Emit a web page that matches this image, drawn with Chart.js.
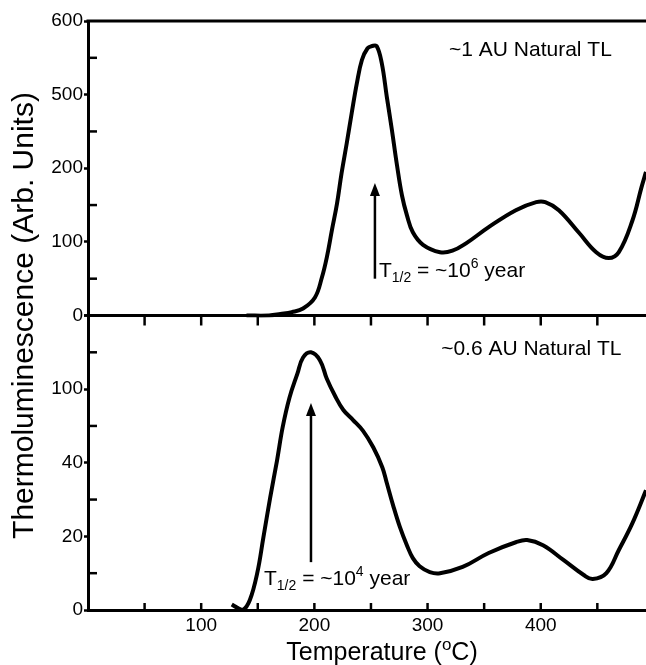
<!DOCTYPE html>
<html>
<head>
<meta charset="utf-8">
<script src="https://cdn.jsdelivr.net/npm/chart.js@4.4.1/dist/chart.umd.min.js"></script>
<style>
  html, body { margin: 0; padding: 0; background: #fff; }
</style>
</head>
<body>
<canvas id="tlChart" width="646" height="665"></canvas>
<script>
// ~1 AU sample (upper panel)
const tempTop = [140, 160, 170, 180, 190, 200.5, 206.7, 211, 215.5, 220, 224, 228.6, 233, 237.6, 242, 247, 251, 255, 259.5, 264,
                 268.5, 273, 277.4, 281.8, 287, 296, 311, 322, 334, 354, 378, 396, 404, 416, 434, 449, 460, 469, 481, 489, 493];
const tlTop = [0, 0, 2, 4.5, 9.5, 24.5, 52, 79, 116, 152, 193, 302, 425, 516, 547, 563, 566, 566, 543, 491,
               356, 212, 163, 136, 113, 96, 86, 88, 98, 120, 143, 154, 154, 143, 112, 86, 78, 86, 129, 174, 195];

// ~0.6 AU sample (lower panel)
const tempBot = [127, 132, 137, 143, 149.5, 155, 161, 167, 172, 178, 185, 190, 197, 205, 211, 218, 225.6, 234, 243, 252,
                 260, 264, 269.5, 275.6, 282, 287, 293, 302, 311, 331, 354, 378, 388, 402, 420, 438, 446, 458, 469, 481, 493];
const tlBot = [1.5, 0.6, 0, 2.7, 10, 19.8, 30.6, 41.8, 69, 93, 121, 143, 150, 139, 114, 95, 83, 75, 66, 52.6,
               38.8, 34.5, 28.5, 22.5, 17.4, 14.1, 11.9, 10.3, 10, 11.7, 15.5, 18.4, 19, 17.6, 13.6, 9.5, 8.4, 10, 16.3, 23.6, 32.5];

// broken y axes: equally spaced break values and their labels
const topBreaks = [0, 100, 200, 500, 600];
const topTickLabels = ['0', '100', '200', '500', '600'];
const botBreaks = [0, 20, 40, 100, 200];
const botTickLabels = ['0', '20', '40', '100', ''];
const xTickLabels = [100, 200, 300, 400];

const FONT = "'Liberation Sans', Arial, sans-serif";

// piecewise linear scale so the broken axis is handled by Chart.js itself
class BrokenScale extends Chart.LinearScale {
    determineDataLimits() {
        const b = this.options.breaks;
        this.min = b[0];
        this.max = b[b.length - 1];
    }
    buildTicks() {
        const b = this.options.breaks;
        const ticks = [];
        for (let i = 0; i < b.length; i++) {
            ticks.push({ value: b[i], major: true, idx: i });
            if (i < b.length - 1) ticks.push({ value: (b[i] + b[i + 1]) / 2, major: false });
        }
        return ticks;
    }
    getPixelForValue(value) {
        const b = this.options.breaks;
        let i = 0;
        while (i < b.length - 2 && value > b[i + 1]) i++;
        const f = (i + (value - b[i]) / (b[i + 1] - b[i])) / (b.length - 1);
        return this.getPixelForDecimal(f);
    }
    getValueForPixel(pixel) {
        const b = this.options.breaks;
        const f = this.getDecimalForPixel(pixel) * (b.length - 1);
        const i = Math.max(0, Math.min(b.length - 2, Math.floor(f)));
        return b[i] + (f - i) * (b[i + 1] - b[i]);
    }
}
BrokenScale.id = 'broken';
BrokenScale.defaults = Chart.LinearScale.defaults;
Chart.register(BrokenScale);

function yAxis(breaks, labels) {
    return {
        type: 'broken',
        position: 'left',
        stack: 'tl',
        stackWeight: 1,
        breaks: breaks,
        border: { width: 3, color: '#000' },
        grid: {
            drawOnChartArea: false,
            tickLength: 4,
            tickWidth: 2.5,
            tickColor: c => (c.tick && c.tick.major ? '#000' : 'rgba(0,0,0,0)')
        },
        ticks: {
            color: '#000',
            padding: 1,
            autoSkip: false,
            font: { size: 19 },
            callback: (v, i, ticks) => (ticks[i].major ? labels[ticks[i].idx] : '')
        },
        afterFit: s => { s.width = 45; }
    };
}

function drawRich(ctx, parts, x, y, size) {
    let cx = x;
    parts.forEach(([text, kind]) => {
        const s = kind ? Math.round(size * 0.66) : size;
        const dy = kind === 'sub' ? size * 0.26 : kind === 'sup' ? -size * 0.4 : 0;
        ctx.font = s + 'px ' + FONT;
        ctx.fillText(text, cx, y + dy);
        cx += ctx.measureText(text).width;
    });
    return cx - x;
}

function arrowUp(ctx, x, yFrom, yTip) {
    ctx.lineWidth = 2.5;
    ctx.beginPath();
    ctx.moveTo(x, yFrom);
    ctx.lineTo(x, yTip + 8);
    ctx.stroke();
    ctx.beginPath();
    ctx.moveTo(x, yTip);
    ctx.lineTo(x - 5, yTip + 13);
    ctx.lineTo(x + 5, yTip + 13);
    ctx.closePath();
    ctx.fill();
}

const decor = {
    id: 'decor',
    afterDraw(chart) {
        const { ctx, chartArea: a, scales } = chart;
        const x = scales.x, yt = scales.yTop, yb = scales.yBot;
        ctx.save();
        ctx.strokeStyle = '#000';
        ctx.fillStyle = '#000';
        const line = (x0, y0, x1, y1) => { ctx.beginPath(); ctx.moveTo(x0, y0); ctx.lineTo(x1, y1); ctx.stroke(); };

        // frame top and panel divider
        ctx.lineWidth = 3;
        line(a.left - 1.5, yt.top, a.right, yt.top);
        line(a.left - 1.5, yt.bottom, a.right, yt.bottom);

        // x ticks: down from divider, up from bottom axis
        ctx.lineWidth = 2.5;
        x.ticks.forEach(t => {
            const px = x.getPixelForValue(t.value);
            if (px <= a.left + 2) return;
            line(px, yt.bottom, px, yt.bottom + 10);
            line(px, a.bottom, px, a.bottom - 7);
        });
        // minor y ticks point inwards
        [yt, yb].forEach(s => s.ticks.forEach(t => {
            if (t.major) return;
            const py = s.getPixelForValue(t.value);
            line(a.left, py, a.left + 9, py);
        }));

        // arrows
        arrowUp(ctx, x.getPixelForValue(253.5), yt.getPixelForValue(50), yt.getPixelForValue(180));
        arrowUp(ctx, x.getPixelForValue(197), yb.getPixelForValue(13), yb.getPixelForValue(88.6));

        ctx.textAlign = 'left';
        ctx.textBaseline = 'alphabetic';
        const fs = 21;
        drawRich(ctx, [['T', ''], ['1/2', 'sub'], [' = ~10', ''], ['6', 'sup'], [' year', '']],
            x.getPixelForValue(257), yt.getPixelForValue(63) + fs * 0.36, fs);
        drawRich(ctx, [['T', ''], ['1/2', 'sub'], [' = ~10', ''], ['4', 'sup'], [' year', '']],
            x.getPixelForValue(155.5), yb.getPixelForValue(8.9) + fs * 0.36, fs);
        drawRich(ctx, [['~1 AU Natural TL', '']],
            x.getPixelForValue(319), yt.getPixelForValue(563) + fs * 0.36, fs);
        drawRich(ctx, [['~0.6 AU Natural TL', '']],
            x.getPixelForValue(312), yb.getPixelForValue(157) + fs * 0.36, fs);

        // x axis title with superscript
        const tparts = [['Temperature (', ''], ['o', 'sup'], ['C)', '']];
        const ts = 25;
        ctx.globalAlpha = 0;
        const w = drawRich(ctx, tparts, 0, 0, ts);
        ctx.globalAlpha = 1;
        drawRich(ctx, tparts, (a.left + a.right) / 2 + 15 - w / 2, x.bottom - 5, ts);
        ctx.restore();
    }
};

Chart.defaults.font.family = FONT;
Chart.defaults.color = '#000';

new Chart(document.getElementById('tlChart'), {
    type: 'line',
    data: {
        datasets: [
            {
                label: '~0.6 AU Natural TL',
                data: tempBot.map((t, i) => ({ x: t, y: tlBot[i] })),
                yAxisID: 'yBot',
                borderColor: '#000',
                borderWidth: 4,
                pointRadius: 0,
                tension: 0.4
            },
            {
                label: '~1 AU Natural TL',
                data: tempTop.map((t, i) => ({ x: t, y: tlTop[i] })),
                yAxisID: 'yTop',
                borderColor: '#000',
                borderWidth: 4,
                pointRadius: 0,
                tension: 0.4
            }
        ]
    },
    options: {
        responsive: false,
        animation: false,
        layout: { padding: { top: 21, right: 0, bottom: 0, left: 0 } },
        plugins: {
            legend: { display: false },
            tooltip: { enabled: false },
            title: {
                display: true,
                text: 'Thermoluminescence (Arb. Units)',
                position: 'left',
                fullSize: false,
                color: '#000',
                font: { size: 30, weight: 'normal' },
                padding: { top: 7, bottom: 0 }
            }
        },
        scales: {
            x: {
                type: 'linear',
                min: 0,
                max: 493,
                border: { width: 3, color: '#000' },
                grid: { drawOnChartArea: false, drawTicks: false },
                ticks: {
                    stepSize: 50,
                    includeBounds: false,
                    autoSkip: false,
                    maxRotation: 0,
                    padding: 4,
                    color: '#000',
                    font: { size: 19 },
                    callback: v => (xTickLabels.includes(v) ? String(v) : '')
                },
                afterFit: s => { s.height = 55; }
            },
            yBot: yAxis(botBreaks, botTickLabels),
            yTop: yAxis(topBreaks, topTickLabels)
        }
    },
    plugins: [decor]
});
</script>
</body>
</html>
